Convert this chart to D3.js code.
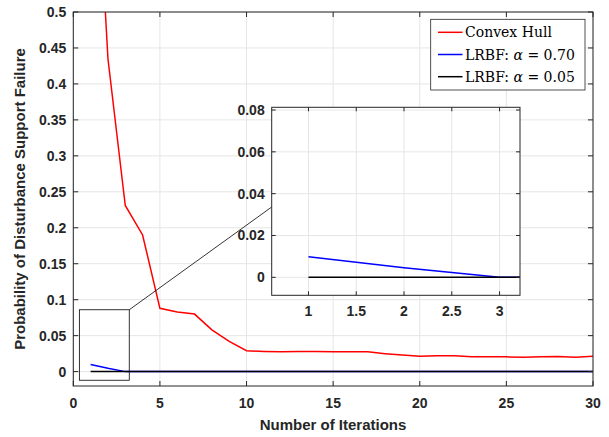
<!DOCTYPE html>
<html>
<head>
<meta charset="utf-8">
<script src="https://cdnjs.cloudflare.com/ajax/libs/d3/7.8.5/d3.min.js"></script>
<style>
  body { margin: 0; background: #fff; }
  text { font-family: "Liberation Sans", Arial, sans-serif; }
</style>
</head>
<body id="viz">
<script>
// Data
iterations = d3.range(1, 31)
convexHull = [0.87, 0.435, 0.231, 0.19, 0.088, 0.083, 0.080, 0.058, 0.042, 0.029,
              0.028, 0.0275, 0.028, 0.028, 0.0275, 0.0275, 0.0275, 0.025, 0.023, 0.0215,
              0.022, 0.022, 0.0205, 0.0205, 0.0205, 0.020, 0.0205, 0.021, 0.020, 0.0215]
lrbf070 = [0.0098, 0.0046, 0, 0, 0, 0, 0, 0, 0, 0, 0, 0, 0, 0, 0,
           0, 0, 0, 0, 0, 0, 0, 0, 0, 0, 0, 0, 0, 0, 0]
lrbf005 = iterations.map(function() { return 0 })

xTicks = [0, 5, 10, 15, 20, 25, 30]
yTicks = [0, 0.05, 0.1, 0.15, 0.2, 0.25, 0.3, 0.35, 0.4, 0.45, 0.5]
insetXTicks = [1, 1.5, 2, 2.5, 3]
insetYTicks = [0, 0.02, 0.04, 0.06, 0.08]

series = [
  {name: "Convex Hull", values: convexHull, color: "#ff0000"},
  {name: "LRBF: ", alpha: "0.70", values: lrbf070, color: "#0000ff"},
  {name: "LRBF: ", alpha: "0.05", values: lrbf005, color: "#000000"}
]

// Consts
width = 609
height = 437
axis_color = "#262626"
grid_color = "#e6e6e6"
zoom_box = {x0: 0.35, x1: 3.23, y0: -0.012, y1: 0.086}

svg = d3.select("body#viz")
  .append("svg")
  .attr("width", width)
  .attr("height", height)

// Main scales
x = d3.scaleLinear().domain([0, 30]).range([73.3, 593])
y = d3.scaleLinear().domain([-0.02, 0.5]).range([386, 12])

function drawAxes(g, xs, ys, xt, yt, fmtX, fmtY) {
  var x0 = xs.range()[0], x1 = xs.range()[1]
  var y0 = ys.range()[0], y1 = ys.range()[1]
  // grid
  g.selectAll(".gx").data(xt).enter().append("line")
    .attr("x1", function(d) { return xs(d) }).attr("x2", function(d) { return xs(d) })
    .attr("y1", y0).attr("y2", y1)
    .style("stroke", grid_color).style("stroke-width", 1)
  g.selectAll(".gy").data(yt).enter().append("line")
    .attr("y1", function(d) { return ys(d) }).attr("y2", function(d) { return ys(d) })
    .attr("x1", x0).attr("x2", x1)
    .style("stroke", grid_color).style("stroke-width", 1)
}

function drawFrame(g, xs, ys, xt, yt, fmtX, fmtY, tick_len, label_dy) {
  var x0 = xs.range()[0], x1 = xs.range()[1]
  var y0 = ys.range()[0], y1 = ys.range()[1]
  var tick_paths = []
  xt.forEach(function(d) {
    tick_paths.push([xs(d), y0, xs(d), y0 - tick_len])
    tick_paths.push([xs(d), y1, xs(d), y1 + tick_len])
  })
  yt.forEach(function(d) {
    tick_paths.push([x0, ys(d), x0 + tick_len, ys(d)])
    tick_paths.push([x1, ys(d), x1 - tick_len, ys(d)])
  })
  g.selectAll(".tick").data(tick_paths).enter().append("line")
    .attr("x1", function(d) { return d[0] }).attr("y1", function(d) { return d[1] })
    .attr("x2", function(d) { return d[2] }).attr("y2", function(d) { return d[3] })
    .style("stroke", axis_color).style("stroke-width", 1)
  g.append("rect")
    .attr("x", x0).attr("y", y1)
    .attr("width", x1 - x0).attr("height", y0 - y1)
    .style("fill", "none").style("stroke", axis_color).style("stroke-width", 1)

  g.selectAll(".xl").data(xt).enter().append("text")
    .attr("x", function(d) { return xs(d) })
    .attr("y", y0 + label_dy)
    .attr("text-anchor", "middle")
    .style("font-size", "14px").style("font-weight", "bold").style("fill", axis_color)
    .text(fmtX)
  g.selectAll(".yl").data(yt).enter().append("text")
    .attr("x", x0 - 7)
    .attr("y", function(d) { return ys(d) + 5 })
    .attr("text-anchor", "end")
    .style("font-size", "14px").style("font-weight", "bold").style("fill", axis_color)
    .text(fmtY)
}

function drawLines(g, xs, ys, clipId) {
  var line = d3.line()
    .x(function(d, i) { return xs(iterations[i]) })
    .y(function(d) { return ys(d) })
  g.selectAll(".series").data(series).enter().append("path")
    .attr("d", function(s) { return line(s.values) })
    .attr("clip-path", "url(#" + clipId + ")")
    .style("fill", "none")
    .style("stroke", function(s) { return s.color })
    .style("stroke-width", 1.5)
}

fmt = function(d) { return String(d) }

// Main plot
main = svg.append("g")
main.append("clipPath").attr("id", "clipMain").append("rect")
  .attr("x", x(0)).attr("y", y(0.5))
  .attr("width", x(30) - x(0)).attr("height", y(-0.02) - y(0.5))
drawAxes(main, x, y, xTicks, yTicks)
drawLines(main, x, y, "clipMain")
drawFrame(main, x, y, xTicks, yTicks, fmt, fmt, 5, 22)

// Zoom rectangle
main.append("rect")
  .attr("x", x(zoom_box.x0)).attr("y", y(zoom_box.y1))
  .attr("width", x(zoom_box.x1) - x(zoom_box.x0))
  .attr("height", y(zoom_box.y0) - y(zoom_box.y1))
  .style("fill", "none").style("stroke", "#000").style("stroke-width", 0.8)

// Axis labels
svg.append("text")
  .attr("x", 333).attr("y", 430)
  .attr("text-anchor", "middle")
  .style("font-size", "15px").style("font-weight", "bold").style("fill", axis_color)
  .text("Number of Iterations")
svg.append("text")
  .attr("transform", "translate(25," + 199 + ") rotate(-90)")
  .attr("text-anchor", "middle")
  .style("font-size", "15px").style("font-weight", "bold").style("fill", axis_color)
  .text("Probability of Disturbance Support Failure")

// Inset
xi = d3.scaleLinear().domain([0.615, 3.214]).range([271.7, 520])
yi = d3.scaleLinear().domain([-0.0086, 0.0813]).range([295.3, 107.3])

// connector line
svg.append("line")
  .attr("x1", x(zoom_box.x1)).attr("y1", y(zoom_box.y1))
  .attr("x2", xi(0.615)).attr("y2", 207)
  .style("stroke", "#000").style("stroke-width", 0.8)

inset = svg.append("g")
inset.append("rect")
  .attr("x", 271.7).attr("y", 107.3)
  .attr("width", 520 - 271.7).attr("height", 295.3 - 107.3)
  .style("fill", "#fff")
inset.append("clipPath").attr("id", "clipInset").append("rect")
  .attr("x", 271.7).attr("y", 107.3)
  .attr("width", 520 - 271.7).attr("height", 295.3 - 107.3)
drawAxes(inset, xi, yi, insetXTicks, insetYTicks)
drawLines(inset, xi, yi, "clipInset")
drawFrame(inset, xi, yi, insetXTicks, insetYTicks, fmt, fmt, 4, 21)

// Legend
legend = svg.append("g")
legend.append("rect")
  .attr("x", 430.7).attr("y", 19.3)
  .attr("width", 154.3).attr("height", 70.7)
  .style("fill", "#fff").style("stroke", axis_color).style("stroke-width", 0.8)
legendRows = legend.selectAll(".lg").data(series).enter().append("g")
  .attr("transform", function(d, i) { return "translate(0," + (32.3 + i * 22.2) + ")" })
legendRows.append("line")
  .attr("x1", 438).attr("x2", 462.5).attr("y1", 0).attr("y2", 0)
  .style("stroke", function(d) { return d.color }).style("stroke-width", 1.5)
legendText = legendRows.append("text")
  .attr("x", 465).attr("y", 5)
  .style("font-family", "'DejaVu Serif', 'Liberation Serif', serif")
  .style("font-size", "14px").style("fill", "#000")
legendText.append("tspan").text(function(d) { return d.name })
legendText.filter(function(d) { return d.alpha }).append("tspan")
  .style("font-style", "italic").text("\u03b1")
legendText.filter(function(d) { return d.alpha }).append("tspan")
  .text(function(d) { return " = " + d.alpha })
</script>
</body>
</html>
